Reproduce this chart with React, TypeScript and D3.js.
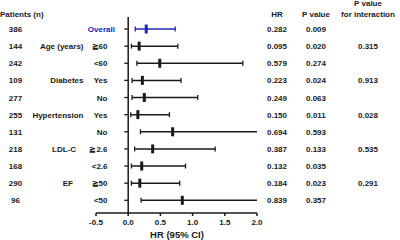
import React from "react";
import * as d3 from "d3";

const patients = ["386", "144", "242", "109", "277", "255", "131", "218", "168", "290", "96"];
const groups = ["", "Age (years)", "", "Diabetes", "", "Hypertension", "", "LDL-C", "", "EF", ""];
const subgroups = ["Overall", "≧60", "<60", "Yes", "No", "Yes", "No", "≧2.6", "<2.6", "≧50", "<50"];
const hrText = ["0.282", "0.095", "0.579", "0.223", "0.249", "0.150", "0.694", "0.387", "0.132", "0.184", "0.839"];
const pText = ["0.009", "0.020", "0.274", "0.024", "0.063", "0.011", "0.593", "0.133", "0.035", "0.023", "0.357"];
const pInt = ["", "0.315", "", "0.913", "", "0.028", "", "0.535", "", "0.291", ""];
const est = [0.28, 0.17, 0.49, 0.22, 0.25, 0.15, 0.69, 0.38, 0.21, 0.18, 0.84];
const lo = [0.11, 0.05, 0.135, 0.06, 0.06, 0.04, 0.19, 0.1, 0.05, 0.05, 0.2];
const hi = [0.73, 0.77, 1.78, 0.82, 1.08, 0.64, 2.0, 1.35, 0.89, 0.8, 2.0];
const xTicks = [-0.5, 0, 0.5, 1.0, 1.5, 2.0];

const groupRight: Record<string, number> = { "LDL-C": 76, EF: 73 };

export default function App() {
  const x = d3.scaleLinear().domain([-0.5, 2]).range([96, 257]);
  const y = d3.scaleLinear().domain([0, 10]).range([29, 200.3]);
  const font = "'Liberation Sans', Arial, sans-serif";
  const ink = "#1a1a1a";
  const blue = "#2424b8";
  const axisY = 213;
  const fmt = (t: number) => d3.format(".1f")(t).replace("−", "-");
  return (
    <svg width={400} height={240} style={{ position: "absolute", left: 0, top: 0, background: "#fff" }}
      fontFamily={font} fontWeight="bold" fontSize={8} fill={ink}>
      <text x={0} y={17}>Patients (n)</text>
      <text x={277} y={17} textAnchor="middle">HR</text>
      <text x={316} y={17} textAnchor="middle">P value</text>
      <text x={368} y={6} textAnchor="middle">P value</text>
      <text x={368} y={17} textAnchor="middle">for interaction</text>

      {/* axes */}
      <line x1={x(0)} x2={x(0)} y1={17} y2={axisY} stroke={ink} strokeWidth={1.5} />
      <line x1={x(-0.5)} x2={x(2)} y1={axisY} y2={axisY} stroke={ink} strokeWidth={1.5} />
      {xTicks.map((t) => (
        <g key={t}>
          <line x1={x(t)} x2={x(t)} y1={axisY} y2={axisY + 3} stroke={ink} strokeWidth={1.5} />
          <text x={x(t)} y={axisY + 12} textAnchor="middle" fontSize={8}>{fmt(t)}</text>
        </g>
      ))}
      <text x={177} y={238} textAnchor="middle" fontSize={9.5}>HR (95% CI)</text>

      {patients.map((n, i) => {
        const yy = y(i);
        const c = i === 0 ? blue : ink;
        const truncated = hi[i] >= 2;
        return (
          <g key={i}>
            <line x1={x(0) - 4} x2={x(0)} y1={yy} y2={yy} stroke={ink} strokeWidth={1.3} />
            <text x={15.5} y={yy + 3} textAnchor="middle">{n}</text>
            {groups[i] && (
              <text x={groupRight[groups[i]] ?? 83.5} y={yy + 3} textAnchor="end">{groups[i]}</text>
            )}
            <text x={i === 0 ? 115 : 107.5} y={yy + 3} textAnchor="end" fill={c}>{subgroups[i]}</text>
            <line x1={x(lo[i])} x2={x(hi[i])} y1={yy} y2={yy} stroke={c} strokeWidth={1.5} />
            <line x1={x(lo[i])} x2={x(lo[i])} y1={yy - 2.5} y2={yy + 2.5} stroke={c} strokeWidth={1.3} />
            {!truncated && (
              <line x1={x(hi[i])} x2={x(hi[i])} y1={yy - 2.5} y2={yy + 2.5} stroke={c} strokeWidth={1.3} />
            )}
            <line x1={x(est[i])} x2={x(est[i])} y1={yy - 4.5} y2={yy + 4.5} stroke={c} strokeWidth={3} />
            <text x={277} y={yy + 3} textAnchor="middle">{hrText[i]}</text>
            <text x={316} y={yy + 3} textAnchor="middle">{pText[i]}</text>
            {pInt[i] && <text x={368} y={yy + 3} textAnchor="middle">{pInt[i]}</text>}
          </g>
        );
      })}
    </svg>
  );
}
